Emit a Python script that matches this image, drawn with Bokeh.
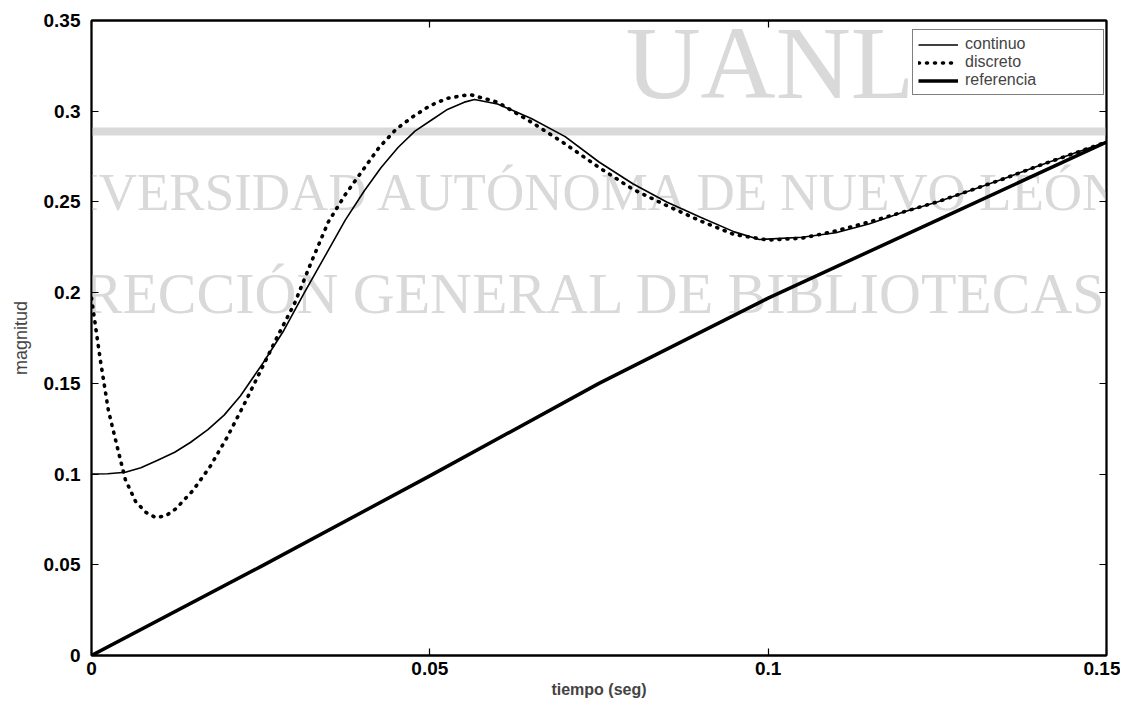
from bokeh.plotting import figure
from bokeh.models import Range1d, FixedTicker, LinearAxis, Legend, LegendItem, Label, BoxAnnotation
from bokeh.embed import file_html
from bokeh.resources import INLINE

# ---- data ----
t_cont = [0.0, 0.0024, 0.005, 0.0073, 0.0097, 0.0123, 0.0146, 0.0172, 0.0196, 0.022,
          0.0254, 0.0284, 0.0314, 0.0344, 0.0375, 0.0403, 0.0428, 0.0453, 0.0478, 0.0502,
          0.0526, 0.0551, 0.0566, 0.060, 0.065, 0.070, 0.075, 0.080, 0.085, 0.090,
          0.095, 0.0987, 0.105, 0.110, 0.115, 0.120, 0.125, 0.130, 0.135, 0.140,
          0.145, 0.150]
continuo = [0.100, 0.1002, 0.101, 0.1035, 0.1075, 0.112, 0.1174, 0.1245, 0.1325, 0.143,
            0.1615, 0.179, 0.1996, 0.2194, 0.240, 0.256, 0.269, 0.280, 0.289, 0.295,
            0.301, 0.305, 0.3065, 0.304, 0.296, 0.286, 0.272, 0.260, 0.250, 0.2415,
            0.2335, 0.2293, 0.2305, 0.233, 0.238, 0.2445, 0.250, 0.2565, 0.263, 0.270,
            0.2765, 0.283]

t_disc = [0.0, 0.0013, 0.0025, 0.004, 0.005, 0.0065, 0.008, 0.0095, 0.011, 0.0125,
          0.015, 0.0175, 0.020, 0.0225, 0.025, 0.0275, 0.030, 0.0325, 0.035, 0.0375,
          0.040, 0.0425, 0.045, 0.0475, 0.050, 0.0525, 0.055, 0.0561, 0.060, 0.065,
          0.070, 0.075, 0.080, 0.085, 0.090, 0.095, 0.100, 0.105, 0.110, 0.115,
          0.120, 0.125, 0.130, 0.135, 0.140, 0.145, 0.150]
discreto = [0.197, 0.163, 0.135, 0.112, 0.097, 0.085, 0.079, 0.076, 0.077, 0.081,
            0.091, 0.104, 0.120, 0.138, 0.157, 0.176, 0.194, 0.217, 0.239, 0.254,
            0.267, 0.280, 0.290, 0.297, 0.303, 0.307, 0.3087, 0.309, 0.305, 0.294,
            0.282, 0.269, 0.257, 0.248, 0.2395, 0.232, 0.229, 0.230, 0.234, 0.239,
            0.2445, 0.250, 0.2565, 0.263, 0.270, 0.2765, 0.283]

t_ref = [0.0, 0.025, 0.050, 0.075, 0.100, 0.125, 0.150]
referencia = [0.0, 0.049, 0.099, 0.150, 0.197, 0.240, 0.283]

x_ticks = [0.0, 0.05, 0.1, 0.15]
x_tick_labels = ["0", "0.05", "0.1", "0.15"]
y_ticks = [0.0, 0.05, 0.1, 0.15, 0.2, 0.25, 0.3, 0.35]
y_tick_labels = ["0", "0.05", "0.1", "0.15", "0.2", "0.25", "0.3", "0.35"]

series_names = ["continuo", "discreto", "referencia"]
x_label = "tiempo (seg)"
y_label = "magnitud"

watermark_big = "UANL"
watermark_1 = "UNIVERSIDAD AUTÓNOMA DE NUEVO LEÓN"
watermark_2 = "DIRECCIÓN GENERAL DE BIBLIOTECAS"

# ---- figure ----
p = figure(width=1120, height=700, output_backend="svg", toolbar_location=None,
           x_range=Range1d(0, 0.15), y_range=Range1d(0, 0.35),
           min_border_left=91, min_border_right=14, min_border_top=20, min_border_bottom=45)
p.background_fill_color = "white"
p.border_fill_color = None
p.outline_line_color = "black"
p.outline_line_width = 1.8
p.grid.visible = False

tick_font = "Liberation Sans"

def style_axis(ax, labels_visible=True):
    ax.major_tick_in = 7
    ax.major_tick_out = 0
    ax.minor_tick_in = 0
    ax.minor_tick_out = 0
    ax.major_tick_line_color = "black"
    ax.major_tick_line_width = 1.2
    ax.axis_line_color = "black"
    ax.axis_line_width = 1.8
    ax.major_label_text_font = tick_font
    ax.major_label_text_font_style = "bold"
    if labels_visible:
        ax.major_label_text_font_size = "19px"
        ax.major_label_text_color = "black"
    else:
        ax.major_label_text_font_size = "4px"
        ax.major_label_text_color = None

xax = p.xaxis[0]
xax.ticker = FixedTicker(ticks=x_ticks)
xax.major_label_overrides = {v: s for v, s in zip(x_ticks, x_tick_labels)}
style_axis(xax)
xax.major_label_standoff = 6
xax.axis_label = x_label
xax.axis_label_standoff = 3
xax.axis_label_text_font = tick_font
xax.axis_label_text_font_style = "bold"
xax.axis_label_text_font_size = "16px"

yax = p.yaxis[0]
yax.ticker = FixedTicker(ticks=y_ticks)
yax.major_label_overrides = {v: s for v, s in zip(y_ticks, y_tick_labels)}
style_axis(yax)
yax.major_label_standoff = 11
yax.axis_label = y_label
yax.axis_label_standoff = 10
yax.axis_label_text_font = tick_font
yax.axis_label_text_font_style = "normal"
yax.axis_label_text_font_size = "18px"

top = LinearAxis(ticker=FixedTicker(ticks=x_ticks), major_label_standoff=0)
style_axis(top, False)
p.add_layout(top, "above")
right = LinearAxis(ticker=FixedTicker(ticks=y_ticks), major_label_standoff=0)
style_axis(right, False)
p.add_layout(right, "right")

# ---- watermark (light gray, behind the data) ----
wm_color = "#d9d9d9"
p.add_layout(BoxAnnotation(left=-91, right=1040, bottom=520, top=528,
                           left_units="screen", right_units="screen",
                           bottom_units="screen", top_units="screen",
                           fill_color=wm_color, fill_alpha=1.0, line_color=None,
                           level="underlay"))
p.add_layout(Label(x=534, y=593, x_units="screen", y_units="screen", text=watermark_big,
                   text_font="Liberation Serif", text_font_size="104px",
                   text_color=wm_color, text_baseline="alphabetic", level="underlay"))
p.add_layout(Label(x=-87, y=464, x_units="screen", y_units="screen", text=watermark_1,
                   text_font="Liberation Serif", text_font_size="53px",
                   text_color=wm_color, text_baseline="alphabetic", level="underlay"))
p.add_layout(Label(x=-69, y=362, x_units="screen", y_units="screen", text=watermark_2,
                   text_font="Liberation Serif", text_font_size="58px",
                   text_color=wm_color, text_baseline="alphabetic", level="underlay"))

# ---- series ----
r_cont = p.line(t_cont, continuo, line_color="black", line_width=1.6, line_join="round")
r_disc = p.line(t_disc, discreto, line_color="black", line_width=3.6, line_dash="1 7",
                line_cap="round", line_join="round")
r_ref = p.line(t_ref, referencia, line_color="black", line_width=3.5, line_join="round")

legend = Legend(items=[LegendItem(label=series_names[0], renderers=[r_cont]),
                       LegendItem(label=series_names[1], renderers=[r_disc]),
                       LegendItem(label=series_names[2], renderers=[r_ref])],
                location=(821, 560), orientation="vertical",
                border_line_color="black", border_line_width=1.2,
                background_fill_color="white", background_fill_alpha=1.0,
                label_text_font=tick_font, label_text_font_size="16px",
                label_height=15, glyph_height=15, glyph_width=40,
                label_standoff=7, spacing=0, padding=5, margin=0,
                label_width=133)
p.add_layout(legend, "center")

open("out.html", "w").write(file_html(p, INLINE))
